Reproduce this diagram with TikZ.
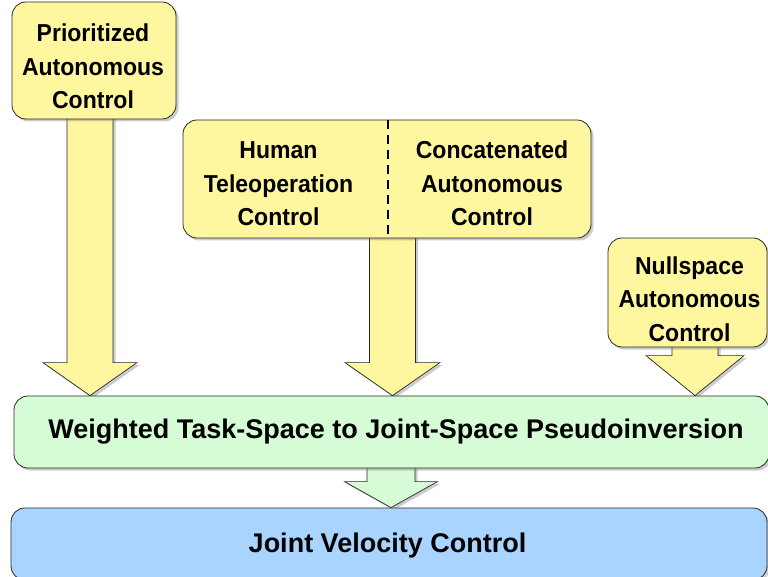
\documentclass[tikz,border=0pt]{standalone}
\usepackage{fontspec}
\setmainfont{Liberation Sans}
\newfontfamily\condsans[FakeStretch=0.94]{Liberation Sans}
\usetikzlibrary{calc,shadows}
\pgfdeclarelayer{bg}
\pgfsetlayers{bg,main}
\definecolor{ylw}{RGB}{255,247,160}
\definecolor{grn}{RGB}{214,252,214}
\definecolor{blu}{RGB}{168,212,255}
\definecolor{edge}{RGB}{40,40,40}
\tikzset{
  shad/.style={drop shadow={shadow xshift=2.5pt,shadow yshift=-2.5pt,opacity=0.4,fill=gray}},
  box/.style={draw=edge, line width=0.8pt, rounded corners=14pt, shad, inner sep=0pt},
  ybox/.style={box, fill=ylw},
  txt/.style={font=\condsans\fontsize{24.5}{33.5}\selectfont\bfseries, align=center, text=black, inner sep=0pt},
  bigtxt/.style={font=\fontsize{27}{30}\selectfont\bfseries, text=black, inner sep=0pt},
  barrow/.style={draw=edge, line width=0.7pt, line join=miter, shad},
}
% #1 colour, #2 start, #3 tip, #4 shaft half width, #5 head half width, #6 head length
\newcommand{\blockarr}[6]{%
  \draw[barrow, fill=#1] let \p1=(#2), \p2=(#3) in
    (\x1-#4pt,\y1) -- (\x1+#4pt,\y1) -- (\x1+#4pt,\y2+#6pt) -- (\x1+#5pt,\y2+#6pt)
    -- (\x1,\y2) -- (\x1-#5pt,\y2+#6pt) -- (\x1-#4pt,\y2+#6pt) -- cycle;}
\begin{document}
\begin{tikzpicture}[x=1pt,y=-1pt]
\useasboundingbox (0,0) rectangle (768,577);
% boxes
\node[ybox, minimum width=164pt, minimum height=117pt] (pac) at (94,60.5) {};
\node[txt] (pact) at (93,66.5) {Prioritized\\Autonomous\\Control};
\node[ybox, minimum width=408pt, minimum height=118pt] (hcb) at (387,179) {};
\node[txt] (hum) at (278.5,183.7) {Human\\Teleoperation\\Control};
\node[txt] (cac) at (492,183.7) {Concatenated\\Autonomous\\Control};
\coordinate (div) at (388,0);
\draw[black, line width=2pt, dash pattern=on 9pt off 6pt] (div |- hcb.north) -- (div |- hcb.south);
\node[ybox, minimum width=159pt, minimum height=109pt] (nac) at (687.5,292.5) {};
\node[txt] (nact) at (689.5,299) {Nullspace\\Autonomous\\Control};
\node[box, fill=grn, minimum width=755pt, minimum height=72pt] (wts) at (391.5,432) {};
\node[bigtxt] (wtst) at (396,432) {Weighted Task-Space to Joint-Space Pseudoinversion};
\node[box, fill=blu, minimum width=756pt, minimum height=72pt] (jvc) at (389,544) {};
\node[bigtxt] (jvct) at (387.5,545.5) {Joint Velocity Control};
% block arrows
\coordinate (s1) at (90,110);
\coordinate (s2) at (392.5,230);
\coordinate (s3) at (695,340);
\coordinate (s4) at (391,460);
\begin{pgfonlayer}{bg}
\blockarr{ylw}{s1}{s1 |- wts.north}{23}{47}{33}
\blockarr{ylw}{s2}{s2 |- wts.north}{23}{47.5}{33}
\blockarr{ylw}{s3}{s3 |- wts.north}{23}{49}{40}
\blockarr{grn}{s4}{s4 |- jvc.north}{24}{46.5}{26}
\end{pgfonlayer}
\end{tikzpicture}
\end{document}
